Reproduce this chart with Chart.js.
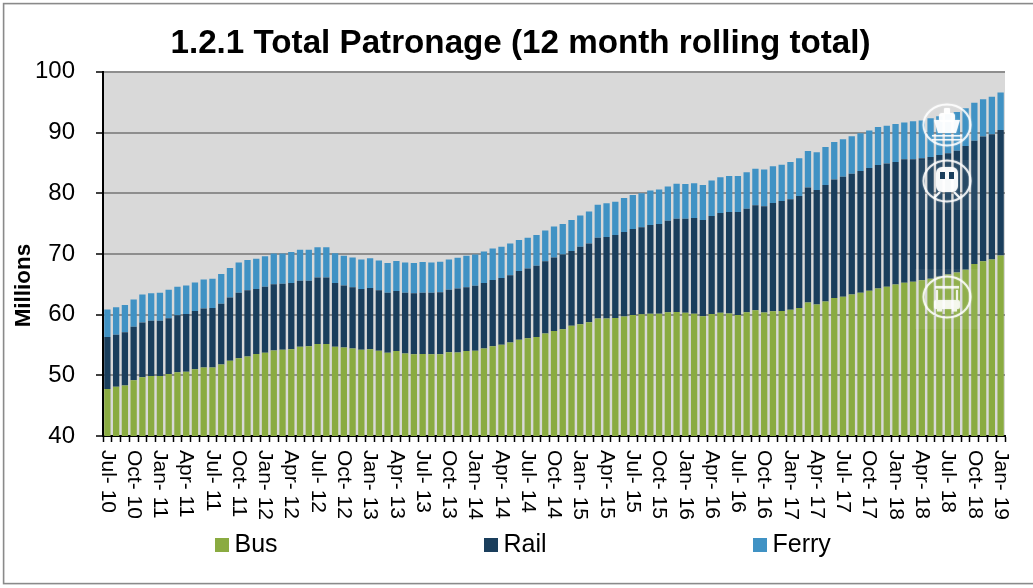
<!DOCTYPE html>
<html><head><meta charset="utf-8">
<style>html,body{margin:0;padding:0;background:#fff}#w{position:relative;width:1033px;height:588px}canvas{display:block}</style>
<script src="https://cdn.jsdelivr.net/npm/chart.js@4"></script>
</head><body><div id="w"><canvas id="c" width="1033" height="588"></canvas></div>
<script>
const categories = [
"Jul-10","Aug-10","Sep-10","Oct-10","Nov-10","Dec-10","Jan-11","Feb-11","Mar-11","Apr-11","May-11","Jun-11",
"Jul-11","Aug-11","Sep-11","Oct-11","Nov-11","Dec-11","Jan-12","Feb-12","Mar-12","Apr-12","May-12","Jun-12",
"Jul-12","Aug-12","Sep-12","Oct-12","Nov-12","Dec-12","Jan-13","Feb-13","Mar-13","Apr-13","May-13","Jun-13",
"Jul-13","Aug-13","Sep-13","Oct-13","Nov-13","Dec-13","Jan-14","Feb-14","Mar-14","Apr-14","May-14","Jun-14",
"Jul-14","Aug-14","Sep-14","Oct-14","Nov-14","Dec-14","Jan-15","Feb-15","Mar-15","Apr-15","May-15","Jun-15",
"Jul-15","Aug-15","Sep-15","Oct-15","Nov-15","Dec-15","Jan-16","Feb-16","Mar-16","Apr-16","May-16","Jun-16",
"Jul-16","Aug-16","Sep-16","Oct-16","Nov-16","Dec-16","Jan-17","Feb-17","Mar-17","Apr-17","May-17","Jun-17",
"Jul-17","Aug-17","Sep-17","Oct-17","Nov-17","Dec-17","Jan-18","Feb-18","Mar-18","Apr-18","May-18","Jun-18",
"Jul-18","Aug-18","Sep-18","Oct-18","Nov-18","Dec-18","Jan-19"];
const bus = [
47.75,48.1,48.3,49.2,49.7,49.9,49.9,50.2,50.5,50.6,51.0,51.3,
51.3,51.8,52.4,52.8,53.1,53.5,53.7,54.1,54.2,54.3,54.7,54.8,
55.15,55.15,54.7,54.6,54.4,54.2,54.3,54.05,53.7,54.0,53.6,53.45,
53.5,53.45,53.45,53.8,53.75,54.0,54.05,54.4,54.8,55.05,55.4,55.85,
56.1,56.3,56.9,57.3,57.6,58.15,58.4,58.75,59.35,59.35,59.45,59.7,
59.95,60.05,60.15,60.15,60.4,60.45,60.3,60.15,59.75,60.1,60.3,60.2,
59.95,60.4,60.7,60.35,60.55,60.6,60.8,61.1,62.0,61.65,62.15,62.75,
62.95,63.3,63.6,63.95,64.3,64.6,64.95,65.25,65.4,65.65,65.9,66.25,
66.6,66.95,67.4,68.35,68.8,69.1,69.75];
const rail = [
8.55,8.6,8.8,8.8,9.0,9.1,9.1,9.2,9.4,9.5,9.6,9.7,
9.8,10.0,10.4,10.8,10.9,10.7,10.9,10.9,10.9,10.9,10.9,10.8,
10.95,10.95,10.5,10.2,10.1,10.0,10.1,9.95,9.9,9.9,10.0,10.05,
10.1,10.15,10.25,10.3,10.55,10.5,10.7,10.8,10.9,11.0,11.1,11.35,
11.5,11.75,11.9,12.1,12.3,12.35,12.8,12.95,13.3,13.45,13.65,13.9,
14.15,14.35,14.6,14.8,15.05,15.35,15.5,15.75,15.85,16.15,16.45,16.7,
16.95,17.05,17.3,17.5,17.85,18.1,18.2,18.45,18.95,18.9,19.2,19.5,
19.75,19.9,20.05,20.2,20.35,20.3,20.2,20.35,20.2,20.1,20.05,20.05,
20.0,20.05,20.4,20.3,20.55,20.6,20.65];
const ferry = [
4.55,4.5,4.5,4.5,4.6,4.5,4.6,4.7,4.7,4.7,4.7,4.8,
4.8,4.9,4.9,5.0,5.0,5.0,5.0,5.05,4.95,5.1,5.1,5.1,
5.0,5.0,4.9,4.9,4.9,4.9,4.9,4.9,4.9,4.95,5.0,5.0,
5.05,5.0,5.0,5.0,5.05,5.2,5.15,5.2,5.2,5.15,5.2,5.1,
5.05,5.05,5.05,5.1,5.05,5.1,5.15,5.3,5.45,5.55,5.5,5.6,
5.6,5.6,5.7,5.65,5.65,5.75,5.7,5.75,5.75,5.85,5.9,5.95,
5.95,6.0,6.05,6.05,6.05,6.0,6.15,6.2,6.0,6.2,6.25,6.2,
6.2,6.2,6.25,6.2,6.25,6.2,6.25,6.05,6.25,6.25,6.4,6.4,
6.4,6.4,6.2,6.25,6.15,6.2,6.2];
const yTicks = [40,50,60,70,80,90,100];
const yAxisTitle = 'Millions';
const FONT = '"Liberation Sans", Arial, sans-serif';

const frame = {
  id:'frame',
  afterLayout(ch){
    ch.titleBlock.left += 14.5; ch.titleBlock.right += 14.5;
  },
  beforeDraw(ch){
    const c=ch.ctx, a=ch.chartArea;
    c.save();
    c.fillStyle='#fff'; c.fillRect(0,0,ch.width,ch.height);
    c.strokeStyle='#8a8a8a'; c.lineWidth=1.6;
    c.strokeRect(3.6,3.6,ch.width+20,580);
    c.fillStyle='#d9d9d9'; c.fillRect(a.left,a.top,a.right-a.left,a.bottom-a.top);
    c.restore();
  }
};
const sideLegend = {
  id:'sideLegend',
  afterDraw(ch){
    const c=ch.ctx, xs=[215,484,753];
    c.save();
    c.font='25px '+FONT; c.textBaseline='alphabetic'; c.textAlign='left';
    ch.data.datasets.forEach((d,i)=>{
      c.fillStyle=d.backgroundColor; c.fillRect(xs[i],538,14,14);
      c.fillStyle='#000'; c.fillText(d.label,xs[i]+19.5,552);
    });
    c.translate(24,285.5); c.rotate(-Math.PI/2);
    c.font='bold 22.5px '+FONT; c.textAlign='center'; c.textBaseline='middle';
    c.fillStyle='#000'; c.fillText(yAxisTitle,0,0);
    c.restore();
  }
};
function rr(c,x,y,w,h,r){c.beginPath();c.roundRect(x,y,w,h,r);c.fill();}
const icons = {
  id:'icons',
  afterDatasetsDraw(ch){
    const c=ch.ctx, cx=947;
    c.save();
    c.fillStyle='rgba(255,255,255,0.06)';
    c.fillRect(915,160,64,50); c.fillRect(915,269,64,60);
    const ring=(y)=>{c.beginPath();c.ellipse(cx,y,23.5,20.5,0,0,Math.PI*2);c.strokeStyle='rgba(255,255,255,0.82)';c.lineWidth=2;c.stroke();};
    c.shadowColor='rgba(255,255,255,0.6)'; c.shadowBlur=2;
    // ferry
    ring(125);
    c.fillStyle='rgba(255,255,255,0.92)';
    c.beginPath();c.moveTo(934,120);c.lineTo(960,120);c.lineTo(956,133);c.lineTo(938,133);c.closePath();c.fill();
    rr(c,939,113,16,9,3); rr(c,944,108,6,6,1);
    c.fillRect(932,135,30,1.5); c.fillRect(932,139,30,1.5);
    // train
    ring(181);
    rr(c,936,167,22,25,6);
    c.fillStyle='#1a3e5c'; c.fillRect(940,172,5,7); c.fillRect(949,172,5,7);
    c.fillStyle='rgba(255,255,255,0.92)';
    c.strokeStyle='rgba(255,255,255,0.92)'; c.lineWidth=2;
    c.beginPath();c.moveTo(940,192);c.lineTo(934,198);c.moveTo(954,192);c.lineTo(960,198);c.stroke();
    // bus
    ring(297);
    c.fillStyle='rgba(255,255,255,0.8)';
    c.fillRect(935,286,24,2.5);
    c.fillRect(936,290,2,10);c.fillRect(956,290,2,10);
    rr(c,934,300,26,9,2);
    c.fillRect(937,309,5,2.5);c.fillRect(952,309,5,2.5);
    c.restore();
  }
};

new Chart(document.getElementById('c'),{
  type:'bar',
  data:{labels:categories,datasets:[
    {label:'Bus',data:bus,backgroundColor:'#8aab41'},
    {label:'Rail',data:rail,backgroundColor:'#1a3e5c'},
    {label:'Ferry',data:ferry,backgroundColor:'#4092c4'}
  ]},
  options:{
    responsive:false,animation:false,
    layout:{padding:{left:7,right:28,top:0,bottom:52}},
    datasets:{bar:{barPercentage:0.72,categoryPercentage:1}},
    plugins:{
      legend:{display:false},tooltip:{enabled:false},
      title:{display:true,text:'1.2.1 Total Patronage (12 month rolling total)',color:'#000',
        font:{family:FONT,size:33.2,weight:'bold',lineHeight:1.2},padding:{top:24,bottom:8}}
    },
    scales:{
      x:{stacked:true,offset:true,
        grid:{display:true,drawOnChartArea:false,drawTicks:true,offset:true,tickLength:6,tickColor:'#000',tickWidth:1.5},
        border:{color:'#000',width:2},
        ticks:{autoSkip:false,minRotation:-90,maxRotation:-90,padding:8,color:'#000',font:{family:FONT,size:21},
          callback(v,i){return i%3===0?categories[i].replace('-','- '):'';}},
        afterDataLimits(s){s._getXAxisLabelAlignment=()=>'left';},
        afterFit(s){s.height=100;}
      },
      y:{stacked:true,min:40,max:100,
        afterBuildTicks(s){s.ticks=yTicks.map(v=>({value:v}));},
        grid:{color:'#8e8e8e',lineWidth:2,tickColor:'#000',tickLength:7,tickWidth:1.5},
        border:{color:'#000',width:2},
        ticks:{padding:21,color:'#000',font:{family:FONT,size:24}},
        afterFit(s){s.width=96;}
      }
    }
  },
  plugins:[frame,icons,sideLegend]
});
</script></body></html>
